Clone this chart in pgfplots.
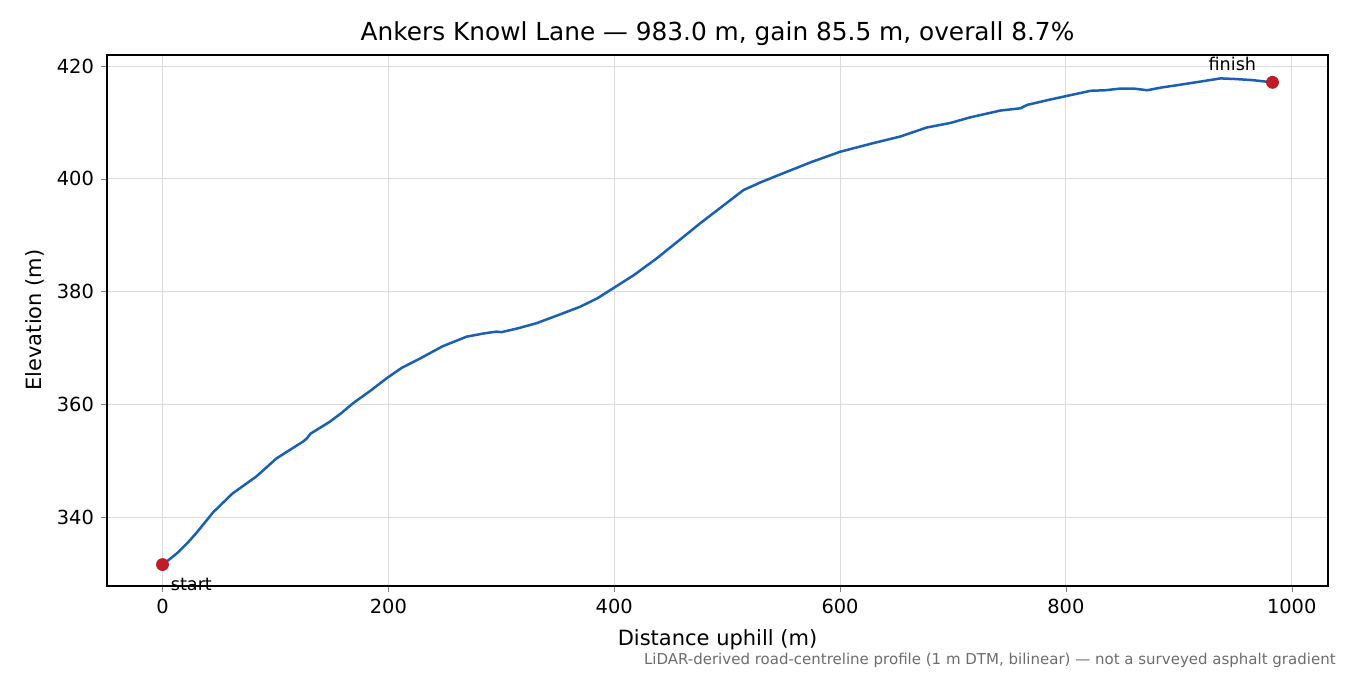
\documentclass[border=0pt]{standalone}
\usepackage{fontspec}
\setmainfont{DejaVu Sans}
\usepackage{pgfplots}
\pgfplotsset{compat=1.18}
\definecolor{lineblue}{RGB}{26,95,180}
\definecolor{dotred}{RGB}{192,28,40}
\begin{document}
\begin{tikzpicture}[x=0.5pt,y=0.5pt]
\path[use as bounding box] (0,0) rectangle (1350,675);
\begin{axis}[
    at={(53.5pt,44.5pt)}, anchor=south west,
    scale only axis, width=610.5pt, height=265.5pt,
    xmin=-49.15, xmax=1032.15, ymin=327.8, ymax=421.95,
    xtick={0,200,400,600,800,1000},
    ytick={340,360,380,400,420},
    tick align=outside, tick pos=left,
    major tick length=3pt,
    grid=major, grid style={gray!28, line width=0.45pt},
    axis line style={line width=0.6pt},
    ticklabel style={font=\fontsize{9.7}{11}\selectfont},
    /pgf/number format/assume math mode=true,
    /pgf/number format/1000 sep={},
    clip=false,
]
\addplot[lineblue, line width=1.25pt, line join=round] coordinates {
 (0,331.6) (6,332.5) (14,333.8) (22,335.4) (30,337.2) (45,340.9) (62,344.2) (83,347.2)
 (100.8,350.4) (124.4,353.4) (128,354.0) (131,354.8) (148,356.9) (158,358.4)
 (168.7,360.2) (184,362.4) (198.3,364.6) (212,366.5) (227.8,368.1)
 (248,370.3) (269.2,372.0) (285,372.6) (295.8,372.9) (300,372.8) (315,373.5)
 (331.3,374.4) (350,375.8) (369.7,377.3) (385,378.8) (399.2,380.6)
 (418,383.0) (437.7,385.9) (457,389.0) (476.1,392.1) (495,395.0)
 (514.5,398.0) (530,399.4) (549.9,401.0) (575,403.0) (600.2,404.8)
 (627,406.2) (653.4,407.5) (677,409.1) (697.7,409.9) (715.4,410.9)
 (742,412.1) (759.8,412.5) (765.7,413.1) (785,414.0) (801.1,414.7)
 (821.8,415.6) (835,415.7) (848.4,416.0) (860,416.0) (872,415.7)
 (885,416.2) (898.7,416.6) (918,417.2) (937,417.8) (949,417.7)
 (965,417.5) (983,417.1)
};
\addplot[only marks, mark=*, mark size=3pt, dotred, mark options={draw=dotred, fill=dotred}]
 coordinates {(0,331.6) (983,417.1)};
\node[anchor=west, font=\fontsize{8.8}{10}\selectfont, inner sep=0pt]
 at ([xshift=4pt,yshift=-10pt]axis cs:0,331.6) {start};
\node[anchor=east, font=\fontsize{8.8}{10}\selectfont, inner sep=0pt]
 at ([xshift=-8pt,yshift=9pt]axis cs:983,417.1) {finish};
\end{axis}
\node[font=\fontsize{12.4}{14}\selectfont] at (717.5,641) {Ankers Knowl Lane — 983.0 m, gain 85.5 m, overall 8.7\%};
\node[font=\fontsize{10.5}{12}\selectfont] at (717.5,35) {Distance uphill (m)};
\node[font=\fontsize{10.5}{12}\selectfont, rotate=90] at (35,355) {Elevation (m)};
\node[anchor=east, font=\fontsize{7.5}{9}\selectfont, text=gray!85!black, inner sep=0pt] at (1336,15) {LiDAR-derived road-centreline profile (1 m DTM, bilinear) — not a surveyed asphalt gradient};
\end{tikzpicture}
\end{document}
